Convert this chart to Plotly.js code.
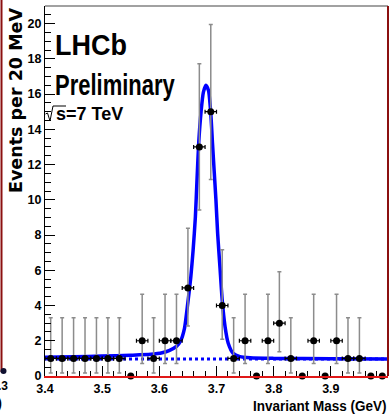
<!DOCTYPE html>
<html>
<head>
<meta charset="utf-8">
<script src="https://cdn.plot.ly/plotly-3.0.1.min.js"></script>
<style>html,body{margin:0;padding:0;background:#fff;}#chart{width:390px;height:418px;}</style>
</head>
<body>
<div id="chart"></div>
<script>
// ---- data ----
const binCenters = [3.41,3.43,3.45,3.47,3.49,3.51,3.53,3.55,3.57,3.59,3.61,3.63,3.65,3.67,3.69,3.71,3.73,3.75,3.77,3.79,3.81,3.83,3.85,3.87,3.89,3.91,3.93,3.95,3.97,3.99];
const counts     = [1,1,1,1,1,1,1,0,2,1,2,2,5,13,15,4,1,2,0,2,3,1,0,2,0,2,1,1,0,0];
const errUp      = [2.30,2.30,2.30,2.30,2.30,2.30,2.30,0,2.64,2.30,2.64,2.64,3.38,4.72,4.95,3.16,2.30,2.64,0,2.64,2.92,2.30,0,2.64,0,2.64,2.30,2.30,0,0];
const errLow     = [0.83,0.83,0.83,0.83,0.83,0.83,0.83,0,1.29,0.83,1.29,1.29,2.16,3.58,3.85,1.91,0.83,1.29,0,1.29,1.63,0.83,0,1.29,0,1.29,0.83,0.83,0,0];
const halfBin    = 0.01;

const fitMass = [3.400,3.450,3.500,3.550,3.585,3.605,3.618,3.630,3.637,3.644,3.650,3.655,3.659,3.663,3.666,3.669,3.673,3.677,3.6815,3.686,3.690,3.693,3.696,3.699,3.702,3.706,3.710,3.715,3.7205,3.729,3.741,3.759,3.800,3.900,4.000];
const fitVal  = [1.07,1.09,1.13,1.18,1.23,1.32,1.46,1.68,1.97,2.70,4.20,5.60,7.10,9.00,11.2,13.3,15.0,16.1,16.5,16.2,14.9,13.2,11.6,10.0,8.1,6.2,4.3,2.8,1.86,1.29,1.10,1.03,1.00,0.98,0.97];

const bkgMass = [3.40,4.00];
const bkgVal  = [0.96,0.96];

const xTickVals = [3.4,3.5,3.6,3.7,3.8,3.9,4.0];
const xTickText = ['3.4','3.5','3.6','3.7','3.8','3.9','4'];

// ---- geometry helpers (pixel -> paper) ----
const W = 390, H = 418, L = 45, R = 2, T = 6, B = 42;
const pw = W - L - R, ph = H - T - B;
const px = x => (x - L) / pw;
const py = y => (H - B - y) / ph;

const SANS = "'Liberation Sans', Arial, sans-serif";

const nzX = [], nzY = [], nzUp = [], nzLo = [];
const zX = [], zY = [];
binCenters.forEach((m, i) => {
  if (counts[i] > 0) { nzX.push(m); nzY.push(counts[i]); nzUp.push(errUp[i]); nzLo.push(errLow[i]); }
  else { zX.push(m); zY.push(counts[i]); }
});

const traces = [
  { x: fitMass, y: fitVal, type: 'scatter', mode: 'lines',
    line: { color: '#0000ff', width: 3.5, shape: 'spline', smoothing: 0.6 }, hoverinfo: 'skip' },
  { x: bkgMass, y: bkgVal, type: 'scatter', mode: 'lines',
    line: { color: '#0000ff', width: 3, dash: '3px,3px' }, hoverinfo: 'skip' },
  { x: nzX, y: nzY, type: 'scatter', mode: 'markers',
    marker: { color: '#000', size: 7 },
    error_y: { type: 'data', symmetric: false, array: nzUp, arrayminus: nzLo, color: '#8c8c8c', thickness: 1.5, width: 2 },
    error_x: { type: 'constant', value: halfBin, color: '#000', thickness: 1.2, width: 2 } },
  { x: zX, y: zY, type: 'scatter', mode: 'markers', cliponaxis: false,
    marker: { color: '#000', size: 7 } }
];

const layout = {
  width: W, height: H, autosize: false, showlegend: false,
  margin: { l: L, r: R, t: T, b: B, pad: 0 },
  paper_bgcolor: '#fff', plot_bgcolor: '#fff',
  xaxis: {
    range: [3.4, 4.0], tickmode: 'array', tickvals: xTickVals, ticktext: xTickText,
    ticks: 'inside', ticklen: 10, tickwidth: 1, tickcolor: '#000',
    showline: true, linecolor: '#e01818', linewidth: 1.5,
    showgrid: false, zeroline: false,
    minor: { tickmode: 'linear', tick0: 3.4, dtick: 0.02, ticks: 'inside', ticklen: 5, tickcolor: '#000', showgrid: false },
    tickfont: { family: SANS, size: 12.5, color: '#000', weight: 'bold' }
  },
  yaxis: {
    range: [0, 21], tick0: 0, dtick: 2,
    ticks: 'inside', ticklen: 10, tickwidth: 1, tickcolor: '#000',
    showline: true, linecolor: '#000', linewidth: 1,
    showgrid: false, zeroline: false,
    minor: { tick0: 0, dtick: 0.5, ticks: 'inside', ticklen: 6, tickcolor: '#000', showgrid: false },
    tickfont: { family: SANS, size: 12.5, color: '#000', weight: 'bold' }
  },
  shapes: [
    { type: 'line', xref: 'paper', yref: 'paper', x0: 0, x1: 1, y0: 1, y1: 1, line: { color: '#444', width: 1.2 } },
    { type: 'line', xref: 'paper', yref: 'paper', x0: 1, x1: 1, y0: 0, y1: 1, line: { color: '#8b1010', width: 2 } },
    // sqrt sign
    { type: 'path', xref: 'paper', yref: 'paper',
      path: `M ${px(45.5)},${py(114)} L ${px(47.5)},${py(113)} L ${px(50)},${py(121)} L ${px(53)},${py(106)} L ${px(66)},${py(106)}`,
      line: { color: '#000', width: 1 } },
    // neighbouring-panel remnants on the left edge
    { type: 'line', xref: 'paper', yref: 'paper', x0: px(1.5), x1: px(1.5), y0: py(0), y1: py(372), line: { color: '#8b1010', width: 2 } },
    { type: 'circle', xref: 'paper', yref: 'paper', x0: px(0.5), x1: px(6.5), y0: py(368), y1: py(374), fillcolor: '#101030', line: { color: '#101030', width: 0 } }
  ],
  annotations: [
    { text: 'LHCb', xref: 'paper', yref: 'paper', x: px(53), y: py(44.5), xanchor: 'left', yanchor: 'middle', showarrow: false,
      font: { family: SANS, size: 27, color: '#000', weight: 'bold' } },
    { text: 'Preliminary', xref: 'paper', yref: 'paper', x: px(53), y: py(84.5), xanchor: 'left', yanchor: 'middle', showarrow: false,
      font: { family: SANS, size: 22, color: '#000', weight: 'bold' } },
    { text: 's=7 TeV', xref: 'paper', yref: 'paper', x: px(54), y: py(114), xanchor: 'left', yanchor: 'middle', showarrow: false,
      font: { family: SANS, size: 18, color: '#000', weight: 'bold' } },
    { text: 'Events per 20 MeV', xref: 'paper', yref: 'paper', x: px(16), y: py(101), xanchor: 'center', yanchor: 'middle', textangle: -90, showarrow: false,
      font: { family: "'DejaVu Sans', sans-serif", size: 17.5, color: '#000', weight: 'bold' } },
    { text: 'Invariant Mass (GeV)', xref: 'paper', yref: 'paper', x: px(389), y: py(405.5), xanchor: 'right', yanchor: 'middle', showarrow: false,
      font: { family: SANS, size: 13.5, color: '#000', weight: 'bold' } },
    { text: '.3', xref: 'paper', yref: 'paper', x: px(10), y: py(386), xanchor: 'right', yanchor: 'middle', showarrow: false,
      font: { family: SANS, size: 12, color: '#000', weight: 'bold' } },
    { text: ')', xref: 'paper', yref: 'paper', x: px(4), y: py(403), xanchor: 'right', yanchor: 'middle', showarrow: false,
      font: { family: SANS, size: 15, color: '#000', weight: 'bold' } }
  ]
};

// vertical stretch factors for annotation texts (the reference lettering is tall and narrow)
const stretch = { 0: 1.12, 1: 1.35, 2: 1.05, 4: 1.15 };

Plotly.newPlot('chart', traces, layout, { staticPlot: true, displayModeBar: false }).then(gd => {
  Object.keys(stretch).forEach(k => {
    const t = gd.querySelector(`.annotation[data-index="${k}"] text.annotation-text`);
    if (!t) return;
    const bb = t.getBBox();
    const cy = bb.y + bb.height / 2;
    const s = stretch[k];
    const prev = t.getAttribute('transform') || '';
    t.setAttribute('transform', `${prev} translate(0,${cy * (1 - s)}) scale(1,${s})`);
  });
});
</script>
</body>
</html>
